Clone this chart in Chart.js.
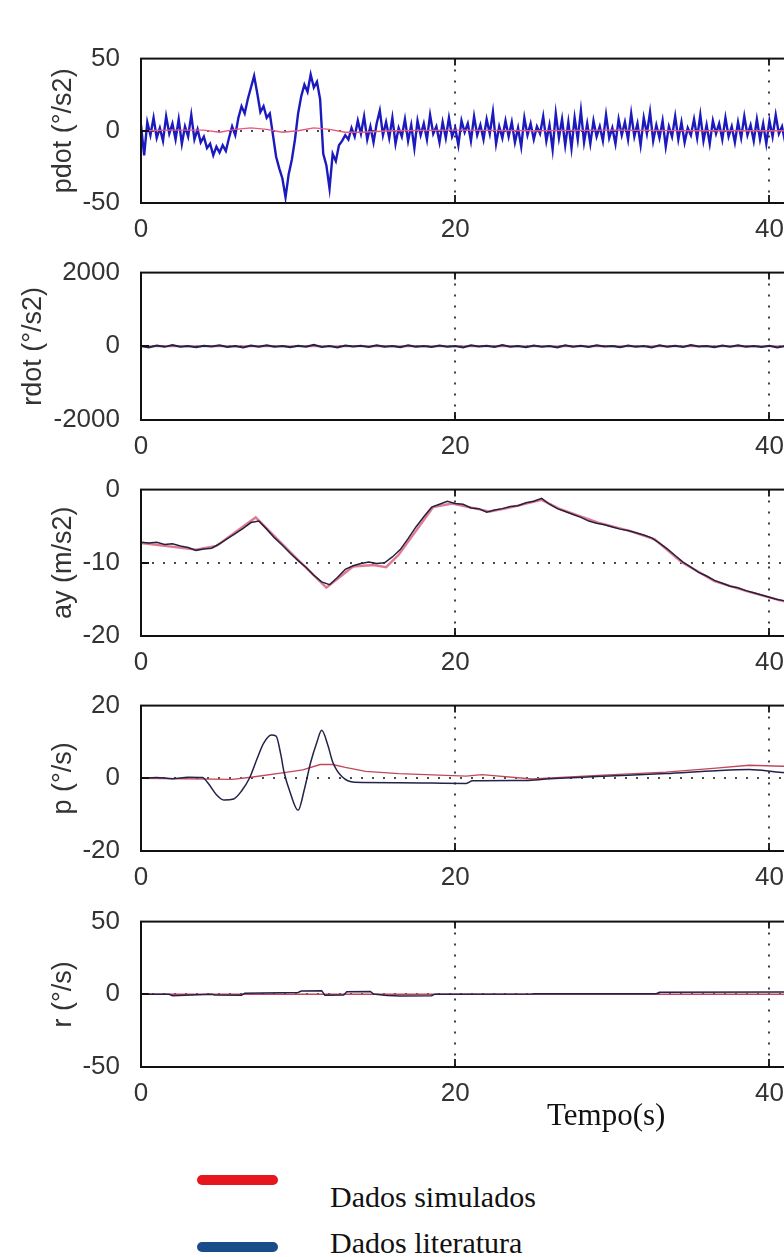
<!DOCTYPE html>
<html>
<head>
<meta charset="utf-8">
<script src="https://cdn.jsdelivr.net/npm/chart.js@4.4.0/dist/chart.umd.min.js"></script>
<style>
    html, body {
        margin: 0;
        padding: 0;
        background: #fff;
        width: 784px;
        height: 1257px;
        overflow: hidden;
        position: relative;
    }

    canvas {
        position: absolute;
        left: 0;
    }

    .txt {
        position: absolute;
        font-family: "Liberation Serif", "Times New Roman", serif;
        color: #111;
        line-height: 1;
        white-space: nowrap;
    }

    .key {
        position: absolute;
        left: 197px;
        width: 81px;
        height: 10px;
        border-radius: 5px;
    }
</style>
</head>
<body>
<canvas id="pdot"></canvas>
<canvas id="rdot"></canvas>
<canvas id="ay"></canvas>
<canvas id="p"></canvas>
<canvas id="r"></canvas>

<div class="txt" style="left:547px; top:1099px; font-size:31px;">Tempo(s)</div>
<div class="key" style="top:1175px; background:#e5161e;"></div>
<div class="txt" style="left:330px; top:1182px; font-size:30px;">Dados simulados</div>
<div class="key" style="top:1242px; background:#1a4c8a;"></div>
<div class="txt" style="left:330px; top:1228px; font-size:30px;">Dados literatura</div>

<script>
// shared x axis (time, s)
const xTicks = [0, 20, 40];

// pdot (deg/s2) - literature sampled every 0.2 s
const pdotStep = 0.2;
const pdotLit = [
    4, -17, 6, -3, 9, -5, 2, -7, 10, -2,
    5, -6, 8, -9, 3, -4, 11, -6, 1, -8,
    -4, -12, -9, -17, -11, -15, -10, -14, -5, 3,
    -3, 9, 17, 12, 22, 30, 38, 26, 13, 17,
    9, 12, -3, -18, -26, -33, -46, -30, -20, -6,
    12, 24, 32, 27, 39, 30, 34, 22, -16, -24,
    -40, -16, -21, -10, -7, -3, -6, 2, -4, 7,
    -2, 10, -6, 3, -8, 5, 14, -3, 6, -5,
    9, -9, 2, -4, 8, -7, 4, -12, 7, -3,
    5, -6, 11, -2, 3, -8, 6, -5, 9, -4,
    2, -10, 7, -1, 5, -7, 10, -3, 4, -6,
    8, -2, 13, -9, 3, -5, 7, -4, 6, -8,
    2, -11, 9, -3, 5, -6, 3, -2, 10, -7,
    4, -13, 12, -5, 8, -10, 6, -12, 9, -6,
    14, -8, 5, -9, 7, -4, 3, -7, 11, -5,
    2, -9, 8, -3, 6, -6, 12, -4, 5, -10,
    9, -2, 13, -7, 4, -5, 7, -11, 3, -4,
    10, -6, 6, -8, 2, -3, 8, -5, 11, -7,
    4, -9, 7, -2, 5, -6, 9, -4, 3, -8,
    6, -5, 10, -3, 4, -7, 8, -6, 5, -9,
    7, -4, 11, -2, 3, -8, 6, -5, 9, -3,
    4
];
const pdotSimTime = [0, 2, 4, 5, 6, 7, 8, 9, 10, 11, 12, 13, 14, 16, 20, 25, 30, 35, 42];
const pdotSim = [0, 0.5, 0.5, -1, 1, 2, 1, -1, 0, 2, 1, -1, -1, 0, 0.5, 0, 0.5, 0, 0];
const pdotTicks = [-50, 0, 50];

// rdot (deg/s2) - literature sampled every 0.5 s
const rdotStep = 0.5;
const rdotLit = [
    10, -30, 20, -15, 35, -10, 5, -25, 15, -5,
    25, -20, 10, -35, 20, -10, 30, -15, 5, -25,
    15, -10, 40, -20, 10, -30, 20, -5, 15, -20,
    25, -15, 10, -25, 30, -10, 5, -20, 20, -15,
    10, -30, 25, -5, 15, -20, 35, -10, 5, -25,
    20, -15, 10, -30, 25, -10, 15, -20, 30, -5,
    10, -25, 20, -15, 5, -30, 25, -10, 15, -20,
    35, -5, 10, -25, 20, -15, 30, -10, 5, -20,
    15, -30, 10, -15, 20
];
const rdotSimTime = [0, 42];
const rdotSim = [0, 0];
const rdotTicks = [-2000, 0, 2000];

// ay (m/s2) - literature sampled every 0.5 s
const ayStep = 0.5;
const ayLit = [
    -7.2, -7.3, -7.2, -7.5, -7.4, -7.7, -7.9, -8.3, -8.1, -8.0,
    -7.4, -6.7, -6.0, -5.3, -4.5, -4.3, -5.4, -6.6, -7.6, -8.7,
    -9.7, -10.6, -11.7, -12.6, -13.0, -12.0, -10.9, -10.4, -10.1, -9.9,
    -10.1, -10.0, -9.2, -8.2, -6.7, -5.1, -3.7, -2.4, -2.0, -1.6,
    -1.9, -2.0, -2.5, -2.6, -3.1, -2.8, -2.6, -2.3, -2.2, -1.8,
    -1.6, -1.2, -2.0, -2.6, -3.0, -3.4, -3.8, -4.3, -4.6, -4.8,
    -5.1, -5.4, -5.6, -5.9, -6.2, -6.6, -7.3, -8.1, -9.0, -9.9,
    -10.6, -11.3, -11.8, -12.4, -12.8, -13.2, -13.4, -13.8, -14.1, -14.4,
    -14.7, -15.0, -15.2, -15.3, -15.6
];
const aySimTime = [0, 3.5, 4.8, 7.3, 9.9, 11.8, 13.5, 14.8, 15.6, 16.4, 18.6, 19.8, 22.2, 23.4, 25.5, 26.6, 29.1, 31.2, 32.7, 34.4, 36.5, 38.6, 40.8, 42];
const aySim = [-7.3, -8.2, -7.7, -3.8, -9.4, -13.4, -10.5, -10.3, -10.6, -8.9, -2.4, -1.9, -3.0, -2.5, -1.4, -2.6, -4.5, -5.7, -6.8, -9.9, -12.5, -13.9, -15.2, -15.7];
const ayTicks = [-20, -10, 0];

// p (deg/s)
const pLitTime = [0, 1, 2, 3, 3.9, 4.3, 4.8, 5.3, 5.9, 6.4, 6.9, 7.4, 7.8, 8.3, 8.6, 8.9, 9.1, 9.5, 10.0, 10.4, 10.8, 11.2, 11.5, 11.9, 12.2, 12.8, 13.6, 16.4, 20.7, 21.1, 24.5, 25.8, 29, 33.4, 36.6, 38.7, 40.8, 42];
const pLit = [0, 0.2, -0.1, 0.3, 0.2, -1.5, -4.5, -6.0, -5.7, -3.5, 0, 5.5, 9.6, 11.9, 11.6, 6.5, 1.8, -4, -8.8, -3, 4.4, 10, 13.2, 9, 4.5, 0.4, -1.1, -1.2, -1.4, -0.7, -0.6, -0.2, 0.5, 1.3, 2.1, 2.4, 1.6, 1.5];
const pSimTime = [0, 5.8, 7, 9, 10.3, 11.4, 12.2, 13, 14.3, 16.4, 20.7, 21.7, 24.9, 29.1, 33.4, 36.6, 38.7, 40.8, 42];
const pSim = [0, -0.3, 0.3, 1.5, 2.3, 3.8, 3.8, 3.0, 1.9, 1.3, 0.6, 1.0, -0.2, 0.8, 1.7, 2.8, 3.6, 3.3, 3.4];
const pTicks = [-20, 0, 20];

// r (deg/s)
const rLitTime = [0, 1.8, 2.0, 4.5, 4.7, 6.4, 6.6, 10.0, 10.2, 11.5, 11.7, 12.9, 13.1, 14.6, 14.8, 15.5, 15.7, 16.5, 18.5, 18.7, 24.9, 25, 32.8, 33.0, 41, 42];
const rLit = [0, 0, -1, 0, -0.5, -0.6, 0.8, 1.2, 2.2, 2.5, -0.6, -0.5, 1.8, 2.0, 0.2, -0.7, -0.9, -1.2, -1.0, 0.1, 0.2, 0.3, 0.4, 1.4, 1.6, 1.5];
const rSimTime = [0, 42];
const rSim = [0, 0];
const rTicks = [-50, 0, 50];

const tickFont = {family: "'Liberation Sans', Arial, sans-serif", size: 26};
const titleFont = {family: "'Liberation Sans', Arial, sans-serif", size: 27};
const inkColor = "#333";

function toPoints(times, values) {
    return values.map((v, i) => ({x: times[i], y: v}));
}

function sampled(step, values) {
    return values.map((v, i) => ({x: i * step, y: v}));
}

// box, inward tick marks and dotted grid, in MATLAB style
const frame = {
    id: "frame",
    beforeDatasetsDraw(chart, args, opts) {
        const {ctx, chartArea: a, scales: {x, y}} = chart;
        ctx.save();
        ctx.strokeStyle = "#111";
        ctx.lineWidth = 1.6;
        ctx.setLineDash([2, 9]);
        ctx.beginPath();
        opts.xGrid.forEach(v => {
            const px = Math.round(x.getPixelForValue(v));
            ctx.moveTo(px, a.top);
            ctx.lineTo(px, a.bottom);
        });
        opts.yGrid.forEach(v => {
            const py = Math.round(y.getPixelForValue(v));
            ctx.moveTo(a.left, py);
            ctx.lineTo(a.right, py);
        });
        ctx.stroke();
        ctx.restore();
    },
    afterDatasetsDraw(chart, args, opts) {
        const {ctx, chartArea: a, scales: {x, y}} = chart;
        ctx.save();
        ctx.strokeStyle = "#111";
        ctx.lineWidth = 1.8;
        ctx.beginPath();
        opts.xGrid.forEach(v => {
            const px = Math.round(x.getPixelForValue(v));
            ctx.moveTo(px, a.top);
            ctx.lineTo(px, a.top + 7);
            ctx.moveTo(px, a.bottom);
            ctx.lineTo(px, a.bottom - 8);
        });
        opts.yGrid.forEach(v => {
            const py = Math.round(y.getPixelForValue(v));
            ctx.moveTo(a.left, py);
            ctx.lineTo(a.left + 8, py);
        });
        ctx.stroke();
        ctx.lineWidth = 2;
        ctx.strokeRect(a.left, a.top, a.right - a.left, a.bottom - a.top);
        ctx.restore();
    }
};

function makePanel(id, cfg) {
    const canvas = document.getElementById(id);
    canvas.width = 858;
    canvas.height = 20 + cfg.height + 40;
    canvas.style.top = (cfg.top - 20) + "px";

    return new Chart(canvas.getContext("2d"), {
        type: "line",
        data: {datasets: cfg.datasets},
        plugins: [frame],
        options: {
            responsive: false,
            animation: false,
            events: [],
            layout: {padding: {top: 20, right: 10, left: 0, bottom: 0}},
            elements: {point: {radius: 0}, line: {tension: 0}},
            scales: {
                x: {
                    type: "linear",
                    min: 0,
                    max: 45,
                    afterBuildTicks: s => { s.ticks = xTicks.map(v => ({value: v})); },
                    afterFit: s => { s.height = 40; },
                    grid: {display: false},
                    border: {display: false},
                    ticks: {font: tickFont, color: inkColor, padding: 3, maxRotation: 0, autoSkip: false, callback: v => String(v)},
                },
                y: {
                    type: "linear",
                    min: cfg.yTicks[0],
                    max: cfg.yTicks[cfg.yTicks.length - 1],
                    afterBuildTicks: s => { s.ticks = cfg.yTicks.map(v => ({value: v})); },
                    afterFit: s => { s.width = 141; },
                    grid: {display: false},
                    border: {display: false},
                    ticks: {font: tickFont, color: inkColor, padding: 13, callback: v => String(v)},
                    title: {display: true, text: cfg.title, font: titleFont, color: inkColor, padding: {top: cfg.titlePad, bottom: 0}},
                },
            },
            plugins: {
                legend: {display: false},
                tooltip: {enabled: false},
                frame: {xGrid: [20, 40], yGrid: cfg.yGrid},
            },
        },
    });
}

makePanel("pdot", {
    top: 50, height: 153, title: "pdot (°/s2)", titlePad: 47, yTicks: pdotTicks, yGrid: [0],
    datasets: [
        {label: "Dados simulados", data: toPoints(pdotSimTime, pdotSim), borderColor: "#e8587e", borderWidth: 1.4, order: 0},
        {label: "Dados literatura", data: sampled(pdotStep, pdotLit), borderColor: "#1a1abf", borderWidth: 2.4, order: 1},
    ]
});

makePanel("rdot", {
    top: 264, height: 156, title: "rdot (°/s2)", titlePad: 17, yTicks: rdotTicks, yGrid: [0],
    datasets: [
        {label: "Dados literatura", data: sampled(rdotStep, rdotLit), borderColor: "#22224a", borderWidth: 2, order: 0},
        {label: "Dados simulados", data: toPoints(rdotSimTime, rdotSim), borderColor: "#e07a90", borderWidth: 2, order: 1},
    ]
});

makePanel("ay", {
    top: 481, height: 155, title: "ay (m/s2)", titlePad: 47, yTicks: ayTicks, yGrid: [-10],
    datasets: [
        {label: "Dados literatura", data: sampled(ayStep, ayLit), borderColor: "#26203e", borderWidth: 1.5, order: 0},
        {label: "Dados simulados", data: toPoints(aySimTime, aySim), borderColor: "#e07a90", borderWidth: 2.4, order: 1},
    ]
});

makePanel("p", {
    top: 697, height: 154, title: "p (°/s)", titlePad: 47, yTicks: pTicks, yGrid: [0],
    datasets: [
        {label: "Dados literatura", data: toPoints(pLitTime, pLit), borderColor: "#22224a", borderWidth: 1.5, cubicInterpolationMode: "monotone", order: 0},
        {label: "Dados simulados", data: toPoints(pSimTime, pSim), borderColor: "#c0485a", borderWidth: 1.4, order: 1},
    ]
});

makePanel("r", {
    top: 913, height: 154, title: "r (°/s)", titlePad: 47, yTicks: rTicks, yGrid: [0],
    datasets: [
        {label: "Dados literatura", data: toPoints(rLitTime, rLit), borderColor: "#22224a", borderWidth: 1.5, order: 0},
        {label: "Dados simulados", data: toPoints(rSimTime, rSim), borderColor: "#c0485a", borderWidth: 1.4, order: 1},
    ]
});
</script>
</body>
</html>
